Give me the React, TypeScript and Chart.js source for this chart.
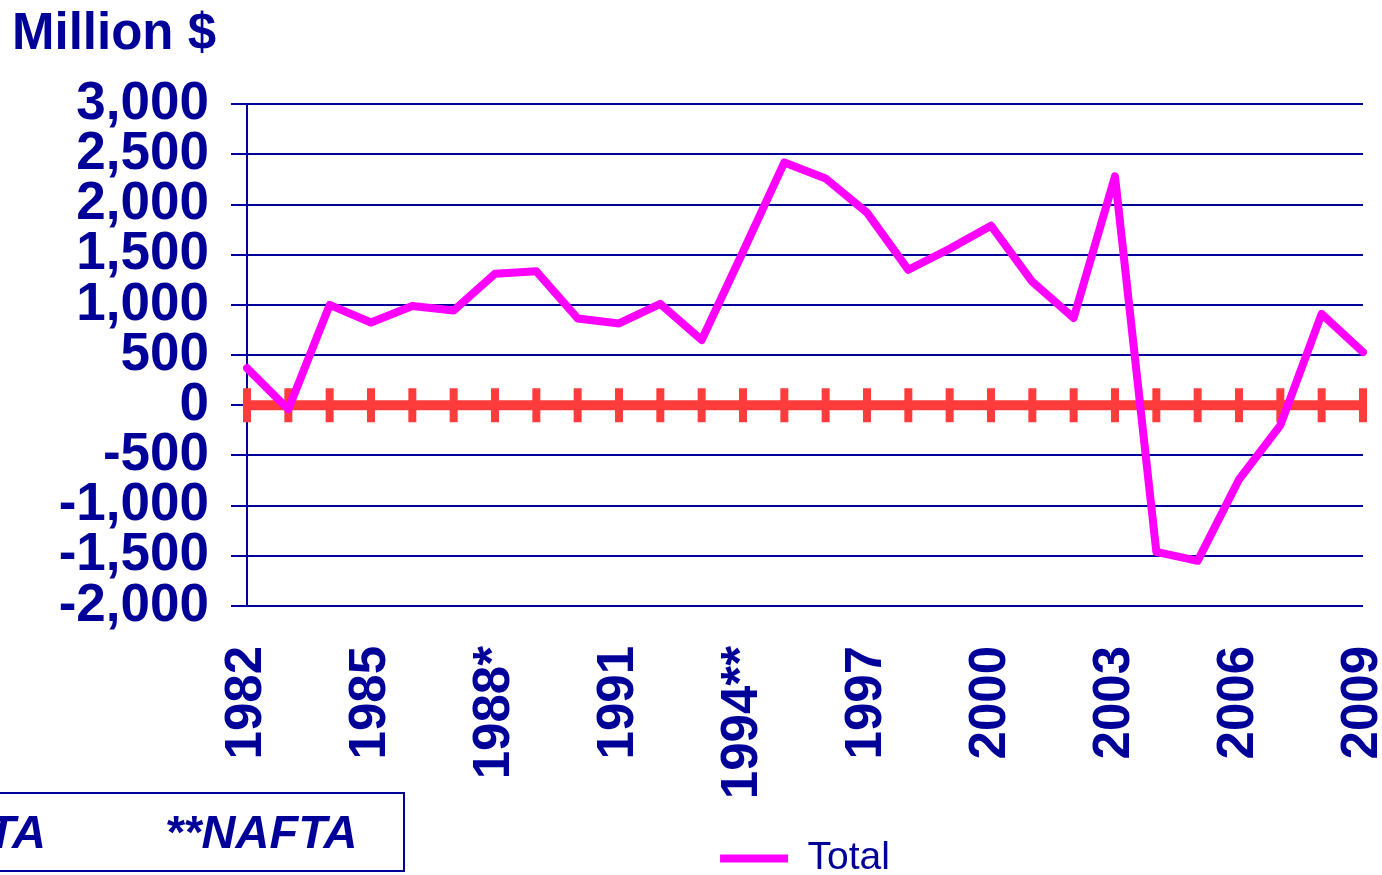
import React, { useEffect, useRef } from "react";
import { Chart, registerables } from "chart.js";

Chart.register(...registerables);

const categories: string[] = [
  "1982", "1983", "1984", "1985", "1986", "1987", "1988*", "1989", "1990", "1991",
  "1992", "1993", "1994**", "1995", "1996", "1997", "1998", "1999", "2000", "2001",
  "2002", "2003", "2004", "2005", "2006", "2007", "2008", "2009",
];

const totalValues: number[] = [
  370, -40, 1000, 825, 990, 945, 1310, 1335, 865, 815,
  1010, 650, 1530, 2420, 2260, 1920, 1350, 1560, 1790, 1230,
  870, 2280, -1460, -1550, -740, -200, 910, 530,
];

const zeroLine: number[] = categories.map(() => 0);

const yTickMin = -2000;
const yTickMax = 3000;
const yTickStep = 500;

const titleText = "Million $";
const seriesName = "Total";
const footnotes: string[] = ["*CUSFTA", "**NAFTA"];

const BLUE = "#000099";
const MAGENTA = "#FF00FF";
const RED = "#FF3C3C";
const FONT = "'Liberation Sans', Arial, Helvetica, sans-serif";

export default function App() {
  const canvasRef = useRef<HTMLCanvasElement | null>(null);

  useEffect(() => {
    document.body.style.margin = "0";
    const canvas = canvasRef.current;
    if (!canvas) return;
    const chart = new Chart(canvas, {
      type: "line",
      data: {
        labels: categories,
        datasets: [
          {
            label: seriesName,
            data: totalValues,
            borderColor: MAGENTA,
            backgroundColor: MAGENTA,
            borderWidth: 8,
            pointRadius: 0,
            pointHoverRadius: 0,
            tension: 0,
            borderJoinStyle: "round",
            borderCapStyle: "round",
            pointStyle: "line",
          },
          {
            label: "zero",
            data: zeroLine,
            borderColor: RED,
            backgroundColor: RED,
            borderWidth: 10,
            pointStyle: "line",
            rotation: 90,
            pointRadius: 17,
            pointBorderWidth: 8,
            pointBorderColor: RED,
            pointHoverRadius: 17,
            tension: 0,
          },
        ],
      },
      options: {
        animation: false,
        responsive: true,
        maintainAspectRatio: false,
        layout: { autoPadding: false, padding: { left: 12, right: 19, top: 0, bottom: 0 } },
        plugins: {
          tooltip: { enabled: false },
          title: {
            display: true,
            text: titleText,
            align: "start",
            color: BLUE,
            font: { family: FONT, size: 51, weight: "bold", lineHeight: 1.2 },
            padding: { top: 4, bottom: 39 },
          },
          legend: {
            display: true,
            position: "bottom",
            fullSize: false,
            labels: {
              filter: (item: any) => item.datasetIndex === 0,
              usePointStyle: true,
              pointStyleWidth: 68,
              boxHeight: 8,
              color: BLUE,
              padding: 10,
              font: { family: FONT, size: 39 },
            },
          },
        },
        scales: {
          x: {
            type: "category",
            offset: false,
            grid: { display: false, drawTicks: false },
            border: { display: false },
            ticks: {
              autoSkip: false,
              maxRotation: 90,
              minRotation: 90,
              padding: 40,
              color: BLUE,
              font: { family: FONT, size: 51, weight: "bold" },
              callback: (_v: any, i: number) => (i % 3 === 0 ? categories[i] : ""),
            },
            afterFit: (scale: any) => {
              scale.height = 223;
              scale.paddingLeft = 0;
              scale.paddingRight = 0;
            },
          },
          y: {
            min: yTickMin,
            max: yTickMax,
            grid: { color: BLUE, lineWidth: 2, tickLength: 16, drawTicks: true },
            border: { display: true, color: BLUE, width: 2 },
            ticks: {
              stepSize: yTickStep,
              autoSkip: false,
              padding: 22,
              color: BLUE,
              font: { family: FONT, size: 53, weight: "bold" },
              callback: (v: any) => Number(v).toLocaleString("en-US"),
            },
            afterFit: (scale: any) => {
              scale.width = 235;
              scale.paddingTop = 0;
              scale.paddingBottom = 0;
            },
          },
        },
      },
    } as any);
    return () => chart.destroy();
  }, []);

  const noteStyle: React.CSSProperties = {
    position: "absolute",
    top: 809,
    fontFamily: FONT,
    fontSize: 47,
    lineHeight: "46px",
    fontWeight: "bold",
    fontStyle: "italic",
    color: BLUE,
    whiteSpace: "nowrap",
  };

  return (
    <div
      style={{
        position: "fixed",
        left: 0,
        top: 0,
        width: 1382,
        height: 875,
        overflow: "hidden",
        background: "#ffffff",
      }}
    >
      <div style={{ position: "absolute", left: 0, top: 0, width: 1382, height: 888 }}>
        <canvas ref={canvasRef} />
      </div>
      <div
        style={{
          position: "absolute",
          left: -220,
          top: 792,
          width: 621,
          height: 76,
          border: `2px solid ${BLUE}`,
          boxSizing: "content-box",
        }}
      />
      <span style={{ ...noteStyle, right: 1382 - 46 }}>{footnotes[0]}</span>
      <span style={{ ...noteStyle, left: 165 }}>{footnotes[1]}</span>
    </div>
  );
}
